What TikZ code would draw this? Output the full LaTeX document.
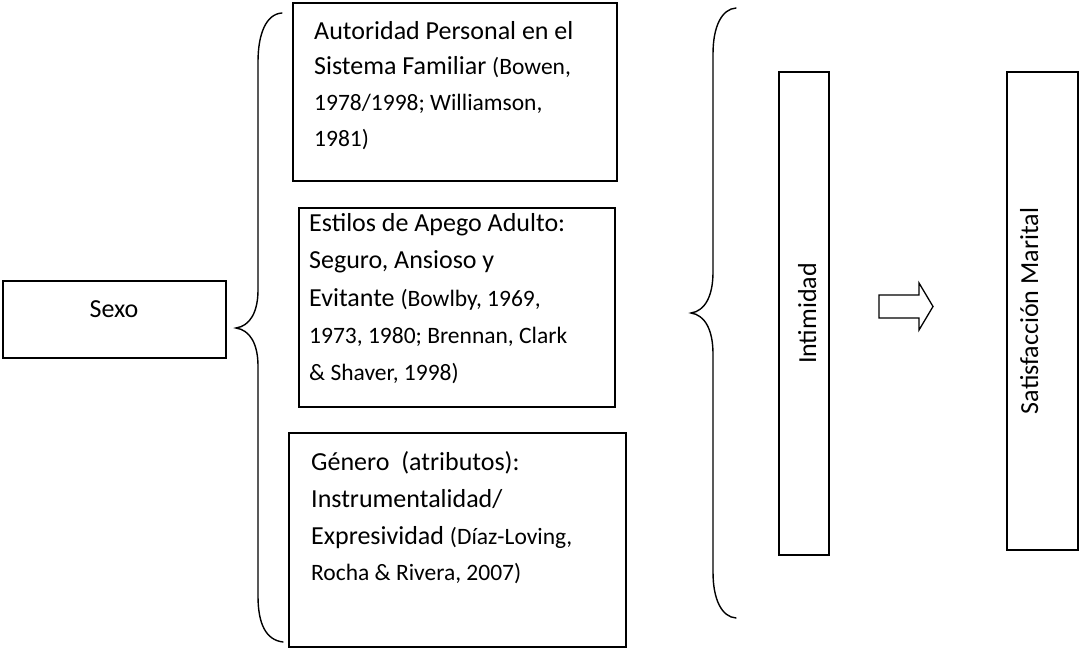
\documentclass[tikz,border=0pt]{standalone}
\usepackage{fontspec}
\setmainfont{Carlito}
\newcommand{\maintxt}{\fontsize{26}{34}\selectfont}
\newcommand{\citetxt}{\fontsize{23.5}{30}\selectfont}
\begin{document}
\begin{tikzpicture}[x=1pt,y=-1pt,
  frame/.style={draw=black,line width=1.4pt},
  bracepath/.style={draw=black,line width=1.4pt,line cap=round},
  textline/.style={anchor=base west,inner sep=0pt,font=\maintxt},
  vlabel/.style={anchor=base,inner sep=0pt,rotate=90,font=\maintxt}]
\useasboundingbox (0,0) rectangle (1081,650);

% left column: Sexo
\draw[frame] (3,281) rectangle (226,358);
\node[anchor=base,inner sep=0pt,font=\maintxt] (sexo) at (114,317) {Sexo};

% brace grouping the three middle boxes
\draw[bracepath] (282,13) .. controls (266,14) and (258,34) .. (258,62)
  -- (258,290) .. controls (258,312) and (250,326) .. (236,328)
  .. controls (250,330) and (258,344) .. (258,366)
  -- (258,596) .. controls (258,624) and (266,640) .. (283,642);

% box 1
\draw[frame] (293,3) rectangle (617,181);
\node[textline] (a1) at (314,39.3) {Autoridad Personal en el};
\node[textline] (a2) at (314,75) {Sistema Familiar {\citetxt(Bowen,}};
\node[textline,font=\citetxt] (a3) at (314,111) {1978/1998; Williamson,};
\node[textline,font=\citetxt] (a4) at (314,146.7) {1981)};

% box 2
\draw[frame] (299,208) rectangle (615,407);
\node[textline] (b1) at (309,231) {Estilos de Apego Adulto:};
\node[textline] (b2) at (309,268) {Seguro, Ansioso y};
\node[textline] (b3) at (309,306) {Evitante {\citetxt(Bowlby, 1969,}};
\node[textline,font=\citetxt] (b4) at (309,343) {1973, 1980; Brennan, Clark};
\node[textline,font=\citetxt] (b5) at (309,380) {\& Shaver, 1998)};

% box 3
\draw[frame] (289,433) rectangle (626,647);
\node[textline] (c1) at (311,470) {Género\ \ (atributos):};
\node[textline] (c2) at (311,507) {Instrumentalidad/};
\node[textline] (c3) at (311,544) {Expresividad {\citetxt(Díaz-Loving,}};
\node[textline,font=\citetxt] (c4) at (311,580) {Rocha \& Rivera, 2007)};

% brace in front of Intimidad
\draw[bracepath] (736,8) .. controls (722,9) and (713,26) .. (713,54)
  -- (713,272) .. controls (713,296) and (705,311) .. (691,313)
  .. controls (705,315) and (713,330) .. (713,354)
  -- (713,572) .. controls (713,600) and (722,617) .. (736,618);

% Intimidad
\draw[frame] (779,72) rectangle (829,555);
\node[vlabel] (intim) at (816,313.5) {Intimidad};

% block arrow
\draw[black,line width=1.3pt,line join=miter]
  (879,295) -- (919,295) -- (919,283) -- (933,306.5) -- (919,330)
  -- (919,318) -- (879,318) -- cycle;

% Satisfaccion Marital
\draw[frame] (1007,72) rectangle (1078,550);
\node[vlabel] (satis) at (1038,311) {Satisfacción Marital};
\end{tikzpicture}
\end{document}
